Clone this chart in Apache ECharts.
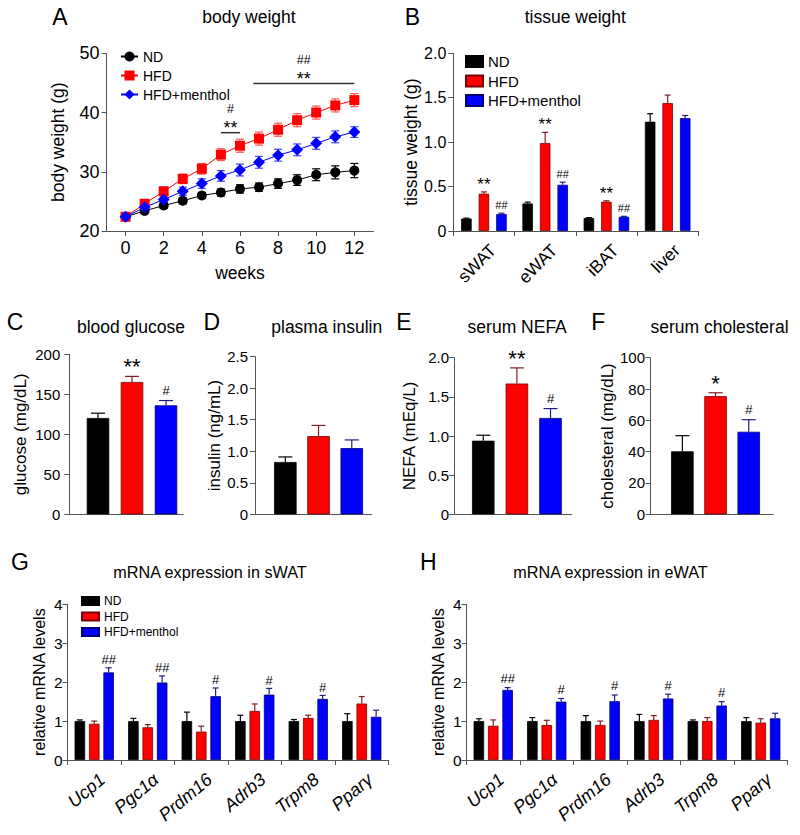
<!DOCTYPE html>
<html><head><meta charset="utf-8">
<script src="https://cdn.jsdelivr.net/npm/echarts@6/dist/echarts.min.js"></script>
<style>html,body{margin:0;padding:0;background:#fff}#c{width:800px;height:835px}</style>
</head><body><div id="c"></div>
<script>
// ---------------- DATA ----------------
const groups = ['ND', 'HFD', 'HFD+menthol'];
// A: body weight
const weeks = [0,1,2,3,4,5,6,7,8,9,10,11,12];
const weekTicks = [0,2,4,6,8,10,12];
const bwND     = [22.4,23.4,24.3,25.1,26.0,26.5,27.1,27.4,28.0,28.6,29.5,29.9,30.2];
const bwNDErr  = [0.5,0.5,0.5,0.5,0.5,0.6,0.7,0.7,0.8,0.9,1.0,1.1,1.2];
const bwHFD    = [22.4,24.6,26.7,28.8,30.5,32.9,34.4,35.6,37.1,38.7,40.0,41.2,42.1];
const bwHFDErr = [0.5,0.6,0.7,0.8,0.9,1.0,1.1,1.1,1.1,1.1,1.1,1.1,1.1];
const bwMen    = [22.4,24.0,25.3,26.7,28.0,29.3,30.3,31.6,32.8,33.7,34.8,35.9,36.7];
const bwMenErr = [0.5,0.6,0.6,0.7,0.8,0.9,1.0,1.0,1.0,1.0,1.0,1.0,0.9];
const sigAFrom  = [5, 6.7];
const sigATo    = [6, 12];
const sigALevel = [36.6, 44.9];
const sigAStars = ['**', '**'];
const sigAHash  = ['#', '##'];
// B: tissue weight
const tissues  = ['sWAT','eWAT','iBAT','liver'];
const twND     = [0.14,0.31,0.146,1.23];
const twNDErr  = [0.005,0.015,0.005,0.09];
const twHFD    = [0.42,0.99,0.33,1.44];
const twHFDErr = [0.02,0.12,0.01,0.09];
const twMen    = [0.19,0.52,0.16,1.27];
const twMenErr = [0.01,0.03,0.005,0.03];
const twHFDSig = ['**','**','**',''];
const twMenSig = ['##','##','##',''];
// C-F
const glucose    = [120.4,165.4,136.2];
const glucoseErr = [6,7,6];
const glucoseSig = ['','**','#'];
const insulin    = [0.83,1.24,1.05];
const insulinErr = [0.08,0.17,0.13];
const insulinSig = ['','',''];
const nefa       = [0.94,1.67,1.23];
const nefaErr    = [0.07,0.20,0.12];
const nefaSig    = ['','**','#'];
const chol       = [40.2,75.5,52.7];
const cholErr    = [10,2.1,7.7];
const cholSig    = ['','*','#'];
// G, H
const genes   = ['Ucp1','Pgc1α','Prdm16','Adrb3','Trpm8','Pparγ'];
const gND     = [1,1,1,1,1,1];
const gNDErr  = [0.03,0.07,0.23,0.15,0.04,0.19];
const gHFD    = [0.93,0.84,0.73,1.26,1.08,1.45];
const gHFDErr = [0.07,0.07,0.14,0.18,0.07,0.18];
const gMen    = [2.25,1.99,1.64,1.68,1.57,1.11];
const gMenErr = [0.12,0.17,0.21,0.16,0.09,0.17];
const gMenSig = ['##','##','#','#','#',''];
const hND     = [1,1,1,1,1,1];
const hNDErr  = [0.06,0.09,0.14,0.17,0.03,0.09];
const hHFD    = [0.88,0.90,0.90,1.03,1.00,0.96];
const hHFDErr = [0.15,0.12,0.10,0.11,0.09,0.10];
const hMen    = [1.80,1.50,1.51,1.58,1.40,1.07];
const hMenErr = [0.06,0.08,0.16,0.11,0.10,0.13];
const hMenSig = ['##','#','#','#','#',''];

// ---------------- STYLE ----------------
const FONT = 'Liberation Sans, Arial, Helvetica, sans-serif';
const COL  = ['#000000','#ff0000','#0000ff'];
const BORD = ['#000000','#7a0000','#00007a'];
const ERRC = ['#000000','#7a2020','#20207a'];
const LINEERR = ['#000000','#ff5555','#4444ff'];
const AX = '#555555';
const SYM = ['circle','rect','diamond'];
const SYMSIZE = [10, 10, 12];

const grids = [
  {left:106.5, top:53.3, width:266.9, height:177.7},   // A
  {left:453.3, top:53.3, width:245,   height:177.7},   // B
  {left:69.3,  top:354.3, width:114,  height:160},     // C
  {left:255,   top:356.7, width:116.7, height:157.6},  // D
  {left:454,   top:357.7, width:117.7, height:156.6},  // E
  {left:650.5, top:357.7, width:122.8, height:156.6},  // F
  {left:67.5,  top:604.3, width:321,  height:155.7},   // G
  {left:466.5, top:604.3, width:321,  height:155.7}    // H
].map(g => Object.assign({outerBoundsMode:'none', containLabel:false}, g));

const dec = v => v === 0 ? '0' : v.toFixed(1);

function yAx(gi, min, max, interval, name, nameGap, fs, nfs, margin, fmt) {
  const a = {type:'value', gridIndex:gi, min, max, interval, name, nameLocation:'middle', nameGap, nameRotate:90,
    nameTextStyle:{fontSize:nfs, color:'#000', fontFamily:FONT},
    axisLine:{show:true, onZero:false, lineStyle:{color:AX, width:1}},
    axisTick:{show:true, length:5, inside:false, lineStyle:{color:AX, width:1}},
    axisLabel:{fontSize:fs, color:'#000', fontFamily:FONT, margin},
    splitLine:{show:false}};
  if (fmt) a.axisLabel.formatter = fmt;
  return a;
}
function xPlain(gi, min, max) {
  return {type:'value', gridIndex:gi, min, max,
    axisLine:{show:true, onZero:false, lineStyle:{color:AX, width:1}},
    axisTick:{show:false}, axisLabel:{show:false}, splitLine:{show:false}};
}
function xCat(gi, cats, fs, rotate, margin, italic) {
  return {type:'category', gridIndex:gi, data:cats,
    axisLine:{show:true, onZero:false, lineStyle:{color:AX, width:1}},
    axisTick:{show:true, length:5, alignWithLabel:false, interval:0, lineStyle:{color:AX, width:1}},
    axisLabel:{show:true, interval:0, rotate, fontSize:fs, color:'#000', fontFamily:FONT,
      fontStyle: italic ? 'italic' : 'normal', margin, verticalAlign:'top', padding:[4,0,0,0]},
    splitLine:{show:false}};
}

const xAxes = [
  {type:'value', gridIndex:0, min:-1, max:13, name:'weeks', nameLocation:'middle', nameGap:33,
    nameTextStyle:{fontSize:17.5, color:'#000', fontFamily:FONT},
    axisLine:{show:true, onZero:false, lineStyle:{color:AX, width:1}},
    axisTick:{show:true, length:5, customValues:weekTicks, lineStyle:{color:AX, width:1}},
    axisLabel:{customValues:weekTicks, fontSize:18, color:'#000', fontFamily:FONT, margin:8},
    splitLine:{show:false}},
  xCat(1, tissues, 17.5, 45, 7, false),
  xPlain(2, -0.844, 2.509),
  xPlain(3, -0.913, 2.60),
  xPlain(4, -0.87, 2.63),
  xPlain(5, -0.96, 2.74),
  xCat(6, genes, 18, 40, 7, true),
  xCat(7, genes, 18, 40, 7, true)
];
const yAxes = [
  yAx(0, 20, 50, 10, 'body weight (g)', 40, 18, 17.5, 7),
  yAx(1, 0, 2, 0.5, 'tissue weight (g)', 33, 16, 17.5, 7, dec),
  yAx(2, 0, 200, 50, 'glucose (mg/dL)', 40, 15, 17, 9),
  yAx(3, 0, 2.5, 0.5, 'insulin (ng/mL)', 32, 15, 17, 7, dec),
  yAx(4, 0, 2, 0.5, 'NEFA (mEq/L)', 36, 15, 17, 5, dec),
  yAx(5, 0, 100, 20, 'cholesteral (mg/dL)', 34, 15, 17, 5.5),
  yAx(6, 0, 4, 1, 'relative mRNA levels', 20, 15.5, 16, 5),
  yAx(7, 0, 4, 1, 'relative mRNA levels', 20, 15.5, 16, 5)
];

// error bar series (value + err, optionally value - err)
function errSeries(ai, vals, errs, color, offsetPx, capW, both) {
  return {type:'custom', xAxisIndex:ai, yAxisIndex:ai, silent:true, z: both ? 1 : 3,
    data: vals.map((v, i) => [i, v, errs[i]]),
    renderItem(params, api) {
      const x = api.value(0), v = api.value(1), e = api.value(2);
      const top = api.coord([x, v + e]);
      const bot = api.coord([x, both ? v - e : v]);
      const cx = top[0] + offsetPx;
      const c = typeof color === 'function' ? color(params.dataIndex) : color;
      const ls = {stroke:c, lineWidth:1.2};
      const ch = [
        {type:'line', shape:{x1:cx, y1:bot[1], x2:cx, y2:top[1]}, style:ls},
        {type:'line', shape:{x1:cx - capW/2, y1:top[1], x2:cx + capW/2, y2:top[1]}, style:ls}
      ];
      if (both) ch.push({type:'line', shape:{x1:cx - capW/2, y1:bot[1], x2:cx + capW/2, y2:bot[1]}, style:ls});
      return {type:'group', children:ch};
    }};
}
// significance text over error bars
function sigSeries(ai, vals, errs, texts, offsetPx, gapStar, gapHash, fsStar, fsHash) {
  return {type:'custom', xAxisIndex:ai, yAxisIndex:ai, silent:true, z:4,
    data: vals.map((v, i) => [i, v + errs[i]]),
    renderItem(params, api) {
      const t = texts[params.dataIndex];
      if (!t) return {type:'group', children:[]};
      const p = api.coord([api.value(0), api.value(1)]);
      const star = t.indexOf('*') >= 0;
      const fs = star ? fsStar : fsHash;
      return {type:'text', x:p[0] + offsetPx, y:p[1] - (star ? gapStar : gapHash),
        style:{text:t, fill:'#000', font: fs + 'px ' + FONT, align:'center', verticalAlign:'middle',
               textAlign:'center', textVerticalAlign:'middle'}};
    }};
}

const series = [];
// ---- A ----
const bwVals = [bwND, bwHFD, bwMen], bwErrs = [bwNDErr, bwHFDErr, bwMenErr];
groups.forEach((g, k) => {
  series.push(Object.assign(errSeries(0, bwVals[k], bwErrs[k], LINEERR[k], 0, 8, true), {
    data: weeks.map((w, i) => [w, bwVals[k][i], bwErrs[k][i]])}));
});
groups.forEach((g, k) => {
  series.push({type:'line', name:g, xAxisIndex:0, yAxisIndex:0, z:2 + k,
    data: weeks.map((w, i) => [w, bwVals[k][i]]),
    symbol:SYM[k], symbolSize:SYMSIZE[k], showSymbol:true,
    itemStyle:{color:COL[k]}, lineStyle:{color:COL[k], width:1}});
});
series.push({type:'custom', xAxisIndex:0, yAxisIndex:0, silent:true, z:5,
  data: sigAFrom.map((f, i) => [f, sigATo[i], sigALevel[i]]),
  renderItem(params, api) {
    const i = params.dataIndex;
    const p0 = api.coord([api.value(0), api.value(2)]);
    const p1 = api.coord([api.value(1), api.value(2)]);
    const mx = (p0[0] + p1[0]) / 2;
    return {type:'group', children:[
      {type:'line', shape:{x1:p0[0], y1:p0[1], x2:p1[0], y2:p1[1]}, style:{stroke:'#333', lineWidth:1.5}},
      {type:'text', x:mx, y:p0[1] - 4.5, style:{text:sigAStars[i], fill:'#000', font:'18px ' + FONT, align:'center', verticalAlign:'middle'}},
      {type:'text', x:mx, y:p0[1] - 24, style:{text:sigAHash[i], fill:'#000', font:'12.5px ' + FONT, align:'center', verticalAlign:'middle'}}
    ]};
  }});

// ---- B ----
const twVals = [twND, twHFD, twMen], twErrs = [twNDErr, twHFDErr, twMenErr];
const offB = [-17.5, 0, 17.5];
groups.forEach((g, k) => {
  series.push({type:'bar', name:g + '#B', xAxisIndex:1, yAxisIndex:1, data:twVals[k],
    barWidth:10.5, barGap:'67%', itemStyle:{color:COL[k], borderColor:BORD[k], borderWidth:0.8}});
});
groups.forEach((g, k) => series.push(errSeries(1, twVals[k], twErrs[k], ERRC[k], offB[k], 6, false)));
series.push(sigSeries(1, twHFD, twHFDErr, twHFDSig, offB[1], 7.7, 8, 17, 11));
series.push(sigSeries(1, twMen, twMenErr, twMenSig, offB[2], 7.7, 8, 17, 11));

// ---- C-F ----
function simple(ai, vals, errs, sig) {
  series.push({type:'bar', xAxisIndex:ai, yAxisIndex:ai, barWidth:22.5,
    data: vals.map((v, i) => ({value:[i, v], itemStyle:{color:COL[i], borderColor:BORD[i], borderWidth:0.8}}))});
  series.push(errSeries(ai, vals, errs, i => ERRC[i], 0, 14, false));
  series.push(sigSeries(ai, vals, errs, sig, 0, 9.5, 10.5, 22, 13));
}
simple(2, glucose, glucoseErr, glucoseSig);
simple(3, insulin, insulinErr, insulinSig);
simple(4, nefa, nefaErr, nefaSig);
simple(5, chol, cholErr, cholSig);

// ---- G, H ----
const offG = [-14.385, 0, 14.385];
function mrna(ai, tag, vals, errs, sig, gap) {
  groups.forEach((g, k) => {
    series.push({type:'bar', name:g + tag, xAxisIndex:ai, yAxisIndex:ai, data:vals[k],
      barWidth:10.5, barGap:'37%', itemStyle:{color:COL[k], borderColor:BORD[k], borderWidth:0.8}});
  });
  groups.forEach((g, k) => series.push(errSeries(ai, vals[k], errs[k], ERRC[k], offG[k], 6, false)));
  series.push(sigSeries(ai, vals[2], errs[2], sig, offG[2], gap, gap, 16, 13));
}
mrna(6, '#G', [gND, gHFD, gMen], [gNDErr, gHFDErr, gMenErr], gMenSig, 8);
mrna(7, '#H', [hND, hHFD, hMen], [hNDErr, hHFDErr, hMenErr], hMenSig, 9);

const strip = n => n.split('#')[0];
const legends = [
  {orient:'vertical', left:115, top:44.5, itemWidth:17, itemHeight:12.5, itemGap:5,
    textStyle:{fontSize:14, color:'#000', fontFamily:FONT}, data:groups.slice(), selectedMode:false},
  {orient:'vertical', left:460, top:49, itemWidth:17, itemHeight:11, itemGap:4.5, icon:'rect', formatter:strip,
    textStyle:{fontSize:15, color:'#000', fontFamily:FONT}, data:groups.map(g => g + '#B'), selectedMode:false},
  {orient:'vertical', left:76, top:590, itemWidth:17, itemHeight:8, itemGap:3.5, icon:'rect', formatter:strip,
    textStyle:{fontSize:12, color:'#000', fontFamily:FONT}, data:groups.map(g => g + '#G'), selectedMode:false}
];

function txt(x, y, s, fs) {
  return {type:'text', x, y, silent:true,
    style:{text:s, fill:'#000', font: fs + 'px ' + FONT, align:'center', verticalAlign:'middle',
           textAlign:'center', textVerticalAlign:'middle'}};
}
const graphics = [
  txt(60, 17, 'A', 23), txt(249, 17, 'body weight', 17.5),
  txt(412.5, 17, 'B', 23), txt(575.3, 17, 'tissue weight', 17.5),
  txt(15, 321.7, 'C', 23), txt(131, 327.3, 'blood glucose', 17.5),
  txt(211.7, 321.7, 'D', 23), txt(326.7, 327.3, 'plasma insulin', 17.5),
  txt(404, 321.7, 'E', 23), txt(517.2, 327.3, 'serum NEFA', 17.5),
  txt(598.3, 321.7, 'F', 23), txt(719.5, 327.3, 'serum cholesteral', 17.5),
  txt(20, 561.7, 'G', 23), txt(210, 571.7, 'mRNA expression in sWAT', 16.2),
  txt(428.3, 561.7, 'H', 23), txt(610.5, 571.7, 'mRNA expression in eWAT', 16.2)
];

const chart = echarts.init(document.getElementById('c'), null, {renderer:'svg', width:800, height:835});
chart.setOption({
  animation:false,
  backgroundColor:'#ffffff',
  textStyle:{fontFamily:FONT, color:'#000'},
  grid:grids, xAxis:xAxes, yAxis:yAxes, legend:legends, series, graphic:graphics, tooltip:{show:false}
});
</script></body></html>
